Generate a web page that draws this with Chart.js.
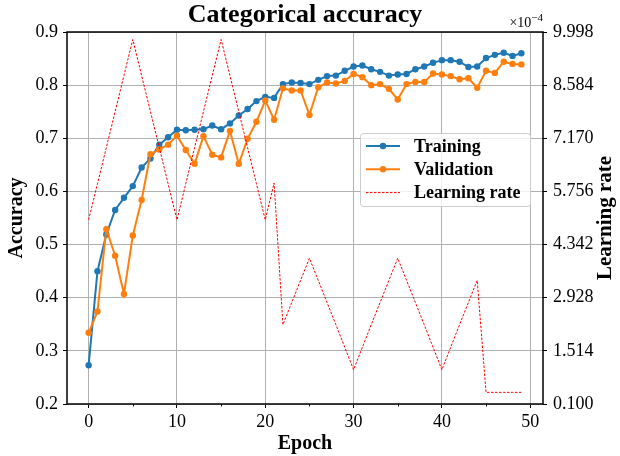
<!DOCTYPE html>
<html>
<head>
<meta charset="utf-8">
<script src="https://cdn.jsdelivr.net/npm/chart.js@4.4.1/dist/chart.umd.min.js"></script>
<style>
  html, body { margin: 0; padding: 0; background: #fff; }
  canvas { display: block; }
</style>
</head>
<body>
<canvas id="chart" width="620" height="456"></canvas>
<script>
// Training history: accuracy per epoch and the learning-rate schedule.
const epochs = [0, 1, 2, 3, 4, 5, 6, 7, 8, 9,
  10, 11, 12, 13, 14, 15, 16, 17, 18, 19,
  20, 21, 22, 23, 24, 25, 26, 27, 28, 29,
  30, 31, 32, 33, 34, 35, 36, 37, 38, 39,
  40, 41, 42, 43, 44, 45, 46, 47, 48, 49];

const trainingAcc = [0.273, 0.450, 0.519, 0.565, 0.588, 0.610, 0.645, 0.662, 0.688, 0.702,
  0.716, 0.715, 0.716, 0.717, 0.724, 0.717, 0.728, 0.743, 0.755, 0.770,
  0.778, 0.776, 0.802, 0.805, 0.804, 0.802, 0.810, 0.817, 0.818, 0.827,
  0.835, 0.837, 0.830, 0.825, 0.818, 0.820, 0.821, 0.830, 0.835, 0.842,
  0.847, 0.847, 0.844, 0.834, 0.835, 0.851, 0.857, 0.861, 0.855, 0.860];

const validationAcc = [0.334, 0.374, 0.529, 0.479, 0.407, 0.517, 0.584, 0.670, 0.679, 0.688,
  0.705, 0.678, 0.652, 0.704, 0.669, 0.664, 0.714, 0.652, 0.699, 0.731,
  0.771, 0.735, 0.794, 0.790, 0.790, 0.744, 0.796, 0.805, 0.803, 0.808,
  0.821, 0.815, 0.800, 0.802, 0.793, 0.773, 0.802, 0.806, 0.806, 0.822,
  0.820, 0.817, 0.811, 0.813, 0.795, 0.827, 0.823, 0.844, 0.840, 0.839];

const learningRate = [5.00e-4, 5.96e-4, 6.92e-4, 7.88e-4, 8.84e-4, 9.80e-4, 8.84e-4, 7.88e-4, 6.92e-4, 5.96e-4,
  5.00e-4, 5.96e-4, 6.92e-4, 7.88e-4, 8.84e-4, 9.80e-4, 8.84e-4, 7.88e-4, 6.92e-4, 5.96e-4,
  5.00e-4, 5.98e-4, 2.21e-4, 2.80e-4, 3.39e-4, 3.98e-4, 3.39e-4, 2.80e-4, 2.21e-4, 1.61e-4,
  1.01e-4, 1.61e-4, 2.21e-4, 2.80e-4, 3.39e-4, 3.98e-4, 3.39e-4, 2.80e-4, 2.21e-4, 1.61e-4,
  1.01e-4, 1.61e-4, 2.21e-4, 2.80e-4, 3.39e-4, 0.41e-4, 0.41e-4, 0.41e-4, 0.41e-4, 0.41e-4];

const epochTicks = [0, 10, 20, 30, 40, 50];
const epochMinorTicks = [5, 15, 25, 35, 45];
const accuracyTicks = [0.2, 0.3, 0.4, 0.5, 0.6, 0.7, 0.8, 0.9];
const lrTicks = [0.100e-4, 1.514e-4, 2.928e-4, 4.342e-4, 5.756e-4, 7.170e-4, 8.584e-4, 9.998e-4];
const LR_UNIT = 1e-4;

const FONT = "'Liberation Serif', 'Times New Roman', serif";
Chart.defaults.font.family = FONT;
Chart.defaults.color = '#000';

const points = (ys) => epochs.map((e, i) => ({ x: e, y: ys[i] }));
const setTicks = (values) => (scale) => { scale.ticks = values.map(v => ({ value: v })); };

// Frame around the plot and minor ticks on the epoch axis
const framePlugin = {
  id: 'frame',
  afterDatasetsDraw(chart) {
    const { ctx, chartArea: a, scales } = chart;
    ctx.save();
    ctx.strokeStyle = '#000';
    ctx.lineWidth = 1;
    epochMinorTicks.forEach(v => {
      const x = Math.round(scales.x.getPixelForValue(v)) + 0.5;
      ctx.beginPath();
      ctx.moveTo(x, a.bottom);
      ctx.lineTo(x, a.bottom + 2.5);
      ctx.stroke();
    });
    ctx.lineWidth = 1.5;
    ctx.strokeRect(a.left, a.top, a.right - a.left, a.bottom - a.top);
    ctx.restore();
  }
};

// Legend box inside the plot, right-axis label and the ×10⁻⁴ multiplier
const overlayPlugin = {
  id: 'overlay',
  afterDraw(chart) {
    const { ctx, chartArea: a } = chart;
    ctx.save();

    // legend
    const bx = 360.5, by = 133.5, bw = 170, bh = 73;
    ctx.beginPath();
    ctx.roundRect(bx, by, bw, bh, 3);
    ctx.fillStyle = 'rgba(255,255,255,0.8)';
    ctx.fill();
    ctx.strokeStyle = '#cccccc';
    ctx.lineWidth = 1;
    ctx.stroke();

    ctx.font = `bold 18px ${FONT}`;
    ctx.textBaseline = 'middle';
    ctx.textAlign = 'left';
    chart.data.datasets.forEach((ds, i) => {
      const y = 146 + i * 23.3;
      ctx.save();
      ctx.strokeStyle = ds.borderColor;
      ctx.lineWidth = ds.borderWidth;
      ctx.setLineDash(ds.borderDash || []);
      ctx.beginPath();
      ctx.moveTo(366, y);
      ctx.lineTo(400, y);
      ctx.stroke();
      ctx.restore();
      if (ds.pointRadius > 0) {
        ctx.beginPath();
        ctx.arc(383, y, ds.pointRadius, 0, Math.PI * 2);
        ctx.fillStyle = ds.backgroundColor;
        ctx.fill();
      }
      ctx.fillStyle = '#000';
      ctx.fillText(ds.label, 414, y + 1);
    });

    // right axis title, reading bottom to top
    ctx.save();
    ctx.translate(606, (a.top + a.bottom) / 2);
    ctx.rotate(-Math.PI / 2);
    ctx.font = `bold 21px ${FONT}`;
    ctx.textAlign = 'center';
    ctx.textBaseline = 'middle';
    ctx.fillStyle = '#000';
    ctx.fillText('Learning rate', 0, 0);
    ctx.restore();

    // multiplier for the learning-rate axis
    ctx.fillStyle = '#000';
    ctx.textAlign = 'right';
    ctx.textBaseline = 'alphabetic';
    ctx.font = `11px ${FONT}`;
    const sup = '\u22124';
    const supW = ctx.measureText(sup).width;
    ctx.fillText(sup, a.right, 21);
    ctx.font = `14px ${FONT}`;
    ctx.fillText('\u00d710', a.right - supW, 27);

    ctx.restore();
  }
};

const gridStyle = { color: '#b0b0b0', lineWidth: 1, tickColor: '#000', tickLength: 4, tickWidth: 1 };

new Chart(document.getElementById('chart'), {
  type: 'line',
  data: {
    datasets: [
      {
        label: 'Training',
        data: points(trainingAcc),
        yAxisID: 'y',
        borderColor: '#1f77b4',
        backgroundColor: '#1f77b4',
        borderWidth: 2,
        pointRadius: 3.2,
        pointBorderWidth: 0,
        tension: 0,
        order: 2
      },
      {
        label: 'Validation',
        data: points(validationAcc),
        yAxisID: 'y',
        borderColor: '#ff7f0e',
        backgroundColor: '#ff7f0e',
        borderWidth: 2,
        pointRadius: 3.2,
        pointBorderWidth: 0,
        tension: 0,
        order: 1
      },
      {
        label: 'Learning rate',
        data: points(learningRate),
        yAxisID: 'y1',
        borderColor: 'red',
        backgroundColor: 'red',
        borderWidth: 1,
        borderDash: [2.5, 1.5],
        pointRadius: 0,
        tension: 0,
        order: 0
      }
    ]
  },
  options: {
    responsive: false,
    devicePixelRatio: 1,
    animation: false,
    events: [],
    layout: { padding: 0 },
    plugins: {
      legend: { display: false },
      tooltip: { enabled: false },
      title: {
        display: true,
        fullSize: false,
        text: 'Categorical accuracy',
        color: '#000',
        font: { size: 26, weight: 'bold', lineHeight: 1 },
        padding: { top: 2, bottom: 4 }
      }
    },
    scales: {
      x: {
        type: 'linear',
        min: -2.45,
        max: 51.45,
        afterBuildTicks: setTicks(epochTicks),
        afterFit: (s) => { s.height = 52; },
        grid: gridStyle,
        border: { display: false },
        ticks: { font: { size: 18 }, color: '#000', padding: 3, maxRotation: 0, autoSkip: false, callback: (v) => String(v) },
        title: { display: true, text: 'Epoch', color: '#000', font: { size: 20, weight: 'bold' }, padding: { top: 0, bottom: 0 } }
      },
      y: {
        type: 'linear',
        position: 'left',
        min: 0.2,
        max: 0.9,
        afterBuildTicks: setTicks(accuracyTicks),
        afterFit: (s) => { s.width = 67; },
        grid: gridStyle,
        border: { display: false },
        ticks: { font: { size: 18 }, color: '#000', padding: 5, autoSkip: false, callback: (v) => v.toFixed(1) },
        title: { display: true, text: 'Accuracy', color: '#000', font: { size: 20, weight: 'bold' }, padding: { top: 5, bottom: 0 } }
      },
      y1: {
        type: 'linear',
        position: 'right',
        min: lrTicks[0],
        max: lrTicks[lrTicks.length - 1],
        afterBuildTicks: setTicks(lrTicks),
        afterFit: (s) => { s.width = 77; },
        grid: Object.assign({}, gridStyle, { drawOnChartArea: false }),
        border: { display: false },
        ticks: { font: { size: 18 }, color: '#000', padding: 6, autoSkip: false, callback: (v) => (v / LR_UNIT).toFixed(3) }
      }
    }
  },
  plugins: [framePlugin, overlayPlugin]
});
</script>
</body>
</html>
